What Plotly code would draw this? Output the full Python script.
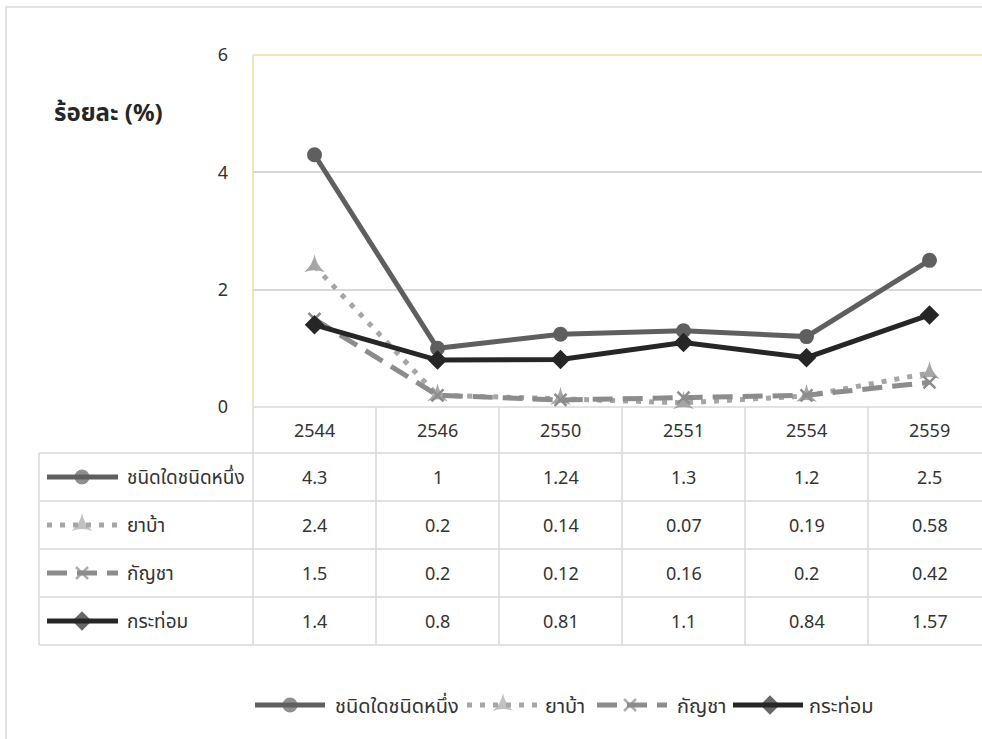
import plotly.graph_objects as go

# ---------------- data ----------------
years = ["2544", "2546", "2550", "2551", "2554", "2559"]
series_names = ["ชนิดใดชนิดหนึ่ง", "ยาบ้า", "กัญชา", "กระท่อม"]
any_drug = [4.3, 1, 1.24, 1.3, 1.2, 2.5]
yaba = [2.4, 0.2, 0.14, 0.07, 0.19, 0.58]
ganja = [1.5, 0.2, 0.12, 0.16, 0.2, 0.42]
kratom = [1.4, 0.8, 0.81, 1.1, 0.84, 1.57]
y_ticks = [0, 2, 4, 6]
y_title = "ร้อยละ (%)"

series_values = [any_drug, yaba, ganja, kratom]

# ---------------- styling / layout (pixels) ----------------
W, H = 982, 739
FONT = "Noto Sans, Noto Sans Thai, Tahoma, sans-serif"
TXT = "#333333"
GRID = "#D9D9D9"
styles = [
    dict(color="#5F5F5F", dash="solid", symbol="circle", size=15, lw=5),
    dict(color="#A6A6A6", dash="5px,8px", symbol="star-triangle-up", size=15, lw=5),
    dict(color="#8C8C8C", dash="20px,10px", symbol="x-thin-open", size=12, lw=5),
    dict(color="#262626", dash="solid", symbol="diamond", size=15, lw=5),
]

PL, PT, PB = 253, 55, 407          # plot left, top, bottom
COLW = 123                         # category column width
ROWS = [407, 453, 501, 549, 597, 645]
TBL_L = 39


def px(x):
    return x / W


def py(y):
    return 1 - y / H


fig = go.Figure()
xi = list(range(len(years)))

# main lines
for name, vals, st in zip(series_names, series_values, styles):
    mk = dict(symbol=st["symbol"], size=st["size"], color=st["color"])
    if st["symbol"].endswith("open"):
        mk["line"] = dict(color=st["color"], width=2.5)
    else:
        mk["line"] = dict(width=0)
    fig.add_trace(go.Scatter(
        x=xi, y=vals, mode="lines+markers", name=name, showlegend=False,
        line=dict(color=st["color"], width=st["lw"], dash=st["dash"]),
        marker=mk, cliponaxis=False, xaxis="x", yaxis="y"))

shapes = []
annotations = []


def hline(y, x0, x1, color=GRID, w=1.5):
    shapes.append(dict(type="line", xref="paper", yref="paper",
                       x0=px(x0), x1=px(x1), y0=py(y), y1=py(y),
                       line=dict(color=color, width=w), layer="below"))


def vline(x, y0, y1, color=GRID, w=1.5):
    shapes.append(dict(type="line", xref="paper", yref="paper",
                       x0=px(x), x1=px(x), y0=py(y0), y1=py(y1),
                       line=dict(color=color, width=w), layer="below"))


def text(x, y, s, size=18, anchor="center", color=TXT):
    annotations.append(dict(x=px(x), y=py(y), xref="paper", yref="paper",
                            xanchor=anchor, yanchor="middle", text=s, showarrow=False,
                            font=dict(size=size, color=color, family=FONT)))


# outer chart border
shapes.append(dict(type="rect", xref="paper", yref="paper",
                   x0=px(6), x1=px(W + 10), y0=py(7), y1=py(H + 10),
                   line=dict(color=GRID, width=1.5), layer="below"))

# yellowish axis frame line at left and top
hline(PT, PL, W + 5, color="#F6E3B8", w=2)
vline(PL, PT, PB, color="#F6E3B8", w=2)

# data table grid
hline(ROWS[0], PL, W + 5)
for y in ROWS[1:]:
    hline(y, TBL_L, W + 5)
vline(TBL_L, ROWS[1], ROWS[-1])
for k in range(len(years) + 1):
    vline(PL + k * COLW, ROWS[0], ROWS[-1])

# year header
for k, yr in enumerate(years):
    text(PL + (k + 0.5) * COLW, (ROWS[0] + ROWS[1]) / 2, yr)

# values + row labels
for r, (name, vals) in enumerate(zip(series_names, series_values)):
    cy = (ROWS[r + 1] + ROWS[r + 2]) / 2
    for k, v in enumerate(vals):
        text(PL + (k + 0.5) * COLW, cy, f"{v:g}")
    text(125, cy, name, size=19, anchor="left")


def key(x0, x1, xm, y, st):
    mk = dict(symbol=st["symbol"], size=[0, st["size"], 0], color=st["color"])
    if st["symbol"].endswith("open"):
        mk["line"] = dict(color=st["color"], width=2.5)
    else:
        mk["line"] = dict(width=0)
    fig.add_trace(go.Scatter(
        x=[x0, xm, x1], y=[y, y, y], mode="lines+markers", showlegend=False,
        line=dict(color=st["color"], width=st["lw"], dash=st["dash"]),
        marker=mk, cliponaxis=False, hoverinfo="skip", xaxis="x2", yaxis="y2"))


# table keys
for r, st in enumerate(styles):
    cy = (ROWS[r + 1] + ROWS[r + 2]) / 2
    key(47, 118, 82, cy, st)

# bottom legend
leg = [(255, 325, 290, 333), (467, 537, 503, 543), (597, 667, 630, 675), (733, 803, 770, 807)]
LY = 705
for (x0, x1, xm, tx), st, name in zip(leg, styles, series_names):
    key(x0, x1, xm, LY, st)
    text(tx, LY, name, size=20, anchor="left")

# y axis title
text(52, 112, f"<b>{y_title}</b>", size=24, anchor="left", color="#262626")

fig.update_layout(
    width=W, height=H, margin=dict(l=0, r=0, t=0, b=0, autoexpand=False),
    autosize=False,
    paper_bgcolor="white", plot_bgcolor="rgba(0,0,0,0)",
    font=dict(family=FONT, color=TXT),
    xaxis=dict(domain=[px(PL), 1], range=[-0.5, -0.5 + (W - PL) / COLW], automargin=False,
               showgrid=False, zeroline=False, showticklabels=False, showline=False, fixedrange=True),
    yaxis=dict(domain=[py(PB), py(PT)], range=[0, 6], tickvals=y_ticks, automargin=False,
               showgrid=True, gridcolor=GRID, gridwidth=1.5, zeroline=False, showline=False,
               tickfont=dict(size=18, color=TXT, family=FONT), ticklabelstandoff=24, fixedrange=True),
    xaxis2=dict(domain=[0, 1], range=[0, W], visible=False, anchor="y2", fixedrange=True, automargin=False),
    yaxis2=dict(domain=[0, 1], range=[H, 0], visible=False, anchor="x2", fixedrange=True, automargin=False),
    shapes=shapes, annotations=annotations, showlegend=False,
)

fig.write_html(
    "out.html",
    config={"displayModeBar": False},
    post_script="document.body.style.margin='0px';document.body.style.overflow='hidden';",
)
